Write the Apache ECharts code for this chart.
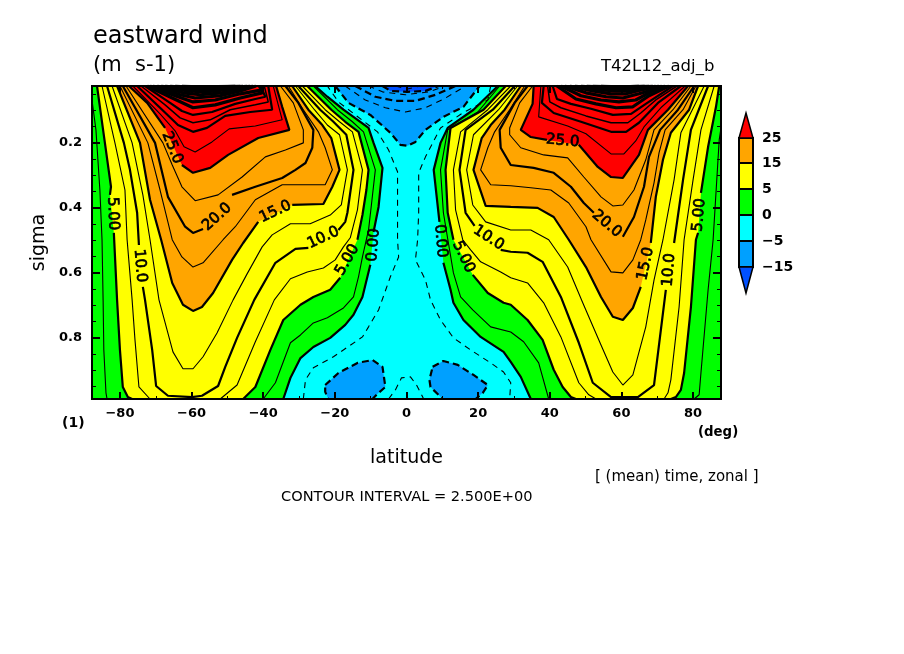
<!DOCTYPE html>
<html>
<head>
<meta charset="utf-8">
<style>html,body{margin:0;padding:0;background:#fff}#main{width:904px;height:654px}</style>
<script src="https://cdn.jsdelivr.net/npm/echarts@6/dist/echarts.min.js"></script>
</head>
<body>
<div id="main"></div>
<script>
// axis ranges and ticks
var latRange = [-87.8, 87.8];
var sigmaRange = [0.025, 0.988];
var latTicks = [-80, -60, -40, -20, 0, 20, 40, 60, 80];
var latMinorTicks = [-70, -50, -30, -10, 10, 30, 50, 70];
var sigmaTicks = [0.2, 0.4, 0.6, 0.8];
var sigmaMinorTicks = [0.05, 0.1, 0.15, 0.25, 0.3, 0.35, 0.45, 0.5, 0.55, 0.65, 0.7, 0.75, 0.85, 0.9, 0.95];

// contours of u, [lat, sigma], null = gap for a label.  S = south, N = north
var u0S = [[-34.4,.988],[-32.4,.923],[-29.6,.862],[-26,.828],[-21.3,.8],[-17.1,.76],[-14.8,.729],[-12.3,.674],[-10.1,.575],null,[-9.2,.474],[-7.8,.397],[-6.7,.277],[-9.2,.2],[-10.6,.154],[-17.6,.098],[-22.1,.058],[-25.5,.025]];
var u0N = [[34.7,.988],[31.9,.92],[29.1,.874],[27.1,.843],[20.7,.797],[15.9,.745],[13.1,.692],[12.3,.652],[10.3,.569],null,[9.2,.443],[7.6,.283],[9.5,.2],[11.5,.154],[18.7,.098],[25.5,.025]];
var u2S = [[-87.8,.068],[-86.7,.16],[-85.6,.345],[-85,.498],[-84.7,.683],[-84.5,.837],[-83.9,.969],[-83.6,.988],null,[-40,.988],[-36.6,.938],[-32.4,.815],[-29.6,.791],[-26,.754],[-22.1,.738],[-17.6,.708],[-14.8,.674],[-13.4,.612],[-12.3,.551],[-10.6,.468],[-9.8,.391],[-8.7,.283],[-12,.166],[-15.1,.135],[-19.3,.098],[-26,.025]];
var u2N = [[39.7,.988],[36.9,.877],[32.7,.812],[29.1,.782],[23.5,.766],[18.5,.714],[15.1,.674],[13.1,.6],[11.7,.508],[10.3,.415],[9.5,.283],[11.5,.16],[19.9,.105],[26,.025],null,[87.8,.154],[87.3,.191],[85.6,.498],[84.2,.652],[82.2,.908],[81.7,.975],[80.3,.988]];
var u5S = [[-86.4,.025],[-84.2,.2],[-82.5,.335],[-82.8,.36],null,[-81.7,.477],[-80.8,.683],[-80,.837],[-79.2,.951],[-77.8,.982],[-76.6,.988],[-45.6,.988],[-42.2,.951],[-38,.837],[-34.4,.745],[-29.6,.698],[-26,.674],[-21.3,.652],[-18.5,.615],null,[-13.7,.498],[-12.3,.422],[-11.2,.345],[-10.6,.283],[-13.4,.166],[-17.1,.135],[-21,.098],[-27.7,.025]];
var u5N = [[27.7,.025],[21.5,.098],[12.3,.154],[10.9,.283],[11.5,.415],[13.1,.498],null,[18.5,.606],[22.7,.662],[27.1,.692],[29.1,.698],[33.8,.745],[38,.806],[41.1,.898],[43.6,.951],[45.9,.982],[47.3,.988],[73.8,.988],[75.2,.982],[76.6,.96],[77.5,.908],[79.4,.705],[80.8,.498],[81.4,.477],null,[82.2,.354],[84.2,.212],[86.4,.089],[87.3,.025]];
var u7S = [[-85,.025],[-81.4,.2],[-78.6,.345],[-78,.498],[-76.6,.683],[-75.8,.806],[-74.7,.951],[-71.6,.988],[-52,.988],[-47.3,.945],[-42.2,.812],[-36.9,.683],[-32.4,.618],[-27.7,.597],[-23.2,.585],[-19.9,.56],[-17.6,.52],[-15.7,.492],[-13.7,.406],[-12.3,.283],[-15.1,.166],[-18.7,.135],[-22.7,.098],[-29.1,.025]];
var u7N = [[29.1,.025],[22.7,.098],[15.1,.166],[13.1,.283],[13.7,.406],[15.7,.498],[17.9,.529],[20.7,.566],[26.3,.597],[29.1,.615],[33.8,.631],[38.3,.692],[43.1,.797],[48.1,.938],[50.9,.975],[52.9,.988],[71.9,.988],[73,.969],[73.8,.929],[76.1,.705],[77.5,.498],[80,.314],[82.2,.16],[85.9,.025]];
var u10S = [[-83.6,.025],[-78.9,.2],[-77.2,.283],[-75.2,.415],[-74.7,.514],null,[-73.6,.643],[-73,.683],[-71,.837],[-69.9,.948],[-66.6,.978],[-59.9,.982],[-57.1,.978],[-52.6,.948],[-50.6,.889],[-47.3,.8],[-42.5,.683],[-36.6,.569],[-31,.526],[-27.4,.523],null,[-19,.468],[-17.1,.443],[-16.5,.415],[-14.8,.283],[-16.8,.175],[-20.4,.135],[-24.1,.098],[-30.2,.025]];
var u10N = [[30.2,.025],[24.1,.098],[16.5,.16],[14.8,.283],[16.5,.415],[19,.455],null,[26.3,.529],[29.1,.535],[33.8,.538],[38,.566],[43.1,.674],[48.1,.815],[52,.938],[57.1,.982],[64.6,.982],[69.1,.945],[72.4,.652],null,[74.7,.508],[77.2,.314],[79.4,.16],[84.2,.025]];
var u12S = [[-82.2,.025],[-76.6,.2],[-73.6,.36],[-71.6,.498],[-69.1,.683],[-65.2,.843],[-62.4,.895],[-59.6,.895],[-56.8,.858],[-52.9,.785],[-48.4,.683],[-44.5,.603],[-40.3,.52],[-37.5,.483],[-32.4,.449],[-26.9,.449],[-21.3,.422],[-18.2,.391],[-16.5,.283],[-18.7,.175],[-22.1,.145],[-25.7,.098],[-31,.025]];
var u12N = [[31,.025],[25.7,.098],[18.7,.175],[16.8,.283],[18.5,.391],[22.1,.443],[29.1,.468],[34.7,.468],[39.7,.498],[45,.582],[49.2,.692],[54.3,.822],[57.6,.905],[60.4,.945],[63.2,.914],[66.8,.766],[69.1,.622],[71.6,.498],[74.7,.314],[76.6,.169],[83.1,.025]];
var u15S = [[-80.8,.025],[-74.4,.2],[-71.6,.375],[-68.5,.498],[-65.4,.631],[-62.4,.698],[-59.6,.717],[-57.1,.705],[-54,.662],[-48.7,.56],[-45.6,.508],[-41.4,.443],null,[-31.9,.391],[-23.2,.388],[-20.7,.335],[-18.7,.283],[-21,.185],[-23.5,.145],[-27.4,.098],[-31.9,.025]];
var u15N = [[31.9,.025],[27.4,.098],[23.5,.145],[21,.185],[18.7,.283],[22.1,.394],[29.1,.397],[36.6,.4],[41.1,.428],[45.3,.498],[50.1,.582],[54.3,.674],[57.6,.735],[60.4,.745],[63.2,.708],[65.4,.643],null,[68.2,.508],[69.6,.366],[71.6,.252],[73.8,.169],[78.9,.098],[81.4,.025]];
var u17S = [[-80,.025],[-72.2,.2],[-68.8,.345],[-65.4,.498],[-62.7,.551],[-59.6,.582],[-56.8,.569],[-51.2,.498],[-47.8,.458],[-42.2,.375],[-34.7,.329],[-28.2,.329],[-22.7,.329],[-20.7,.283],[-22.7,.215],[-24.6,.166],[-28.8,.098],[-33,.025]];
var u17N = [[33,.025],[28.8,.098],[24.6,.166],[22.7,.215],[20.7,.283],[23.5,.329],[29.1,.332],[34.7,.338],[40.3,.345],[45.3,.385],[50.1,.458],[51.5,.498],[57.1,.597],[60.4,.6],[63.2,.56],[65.4,.498],[66.8,.437],[69.1,.323],[70.5,.231],[72.2,.16],[77.2,.098],[80.8,.025]];
var u20S = [[-79.2,.025],[-70.2,.2],[-66.6,.366],[-61.8,.458],[-59.6,.477],[-56.8,.465],null,[-48.7,.36],[-42.2,.335],[-34.7,.308],[-31,.283],[-28.2,.262],[-26.3,.215],[-26,.16],[-30.2,.077],[-33.8,.025]];
var u20N = [[33.8,.025],[30.2,.077],[26,.16],[26.3,.215],[29.1,.268],[35.5,.277],[41.1,.292],[45.9,.335],[49.5,.385],[52.3,.415],null,[60.4,.489],[63.5,.428],[66.3,.335],[67.7,.243],[70.8,.16],[75.8,.098],[80.3,.025]];
var u22S = [[-78.3,.025],[-68,.2],[-65.4,.268],[-62.7,.335],[-59,.378],[-52.6,.36],[-45.9,.305],[-39.4,.243],[-33.8,.222],[-28.8,.2],[-28.8,.16],[-31.6,.077],[-35.2,.025]];
var u22N = [[35.2,.025],[31.6,.077],[28.8,.154],[28.8,.175],[31.9,.215],[38.3,.237],[45,.246],[49.5,.305],[54.3,.366],[57.6,.394],[60.4,.391],[63.5,.345],[66.8,.252],[69.1,.16],[74.4,.098],[79.4,.025]];
var u25S = [[-77.5,.025],[-72.4,.077],[-67.4,.154],null,[-62.7,.268],[-59.6,.292],[-54.8,.277],[-49.8,.237],[-41.4,.185],[-32.7,.16],[-34.7,.089],[-36.4,.025]];
var u25N = [[35.5,.025],[35.2,.08],[31.9,.16],[34.7,.182],[39.2,.191],null,[48.1,.206],[53.4,.274],[57.1,.305],[60.4,.308],[64.9,.237],[67.4,.16],[73,.098],[78.6,.025]];

// jet core, 27.5 upwards in steps of 2.5
var jetS = [
  [[-76.4,.025],[-68.8,.111],[-64.6,.163],[-62.1,.212],[-59,.228],[-54.3,.197],[-49.5,.157],[-42.2,.148],[-34.7,.129],[-37.2,.025]],
  [[-75.2,.025],[-68.8,.092],[-63.8,.145],[-59.6,.166],[-55.7,.154],[-50.6,.117],[-43.6,.105],[-37.5,.098],[-38.6,.025]],
  [[-74.1,.025],[-67.4,.083],[-63.2,.123],[-59.6,.138],[-54.8,.129],[-49.2,.098],[-42.2,.083],[-38.6,.074],[-39.7,.025]],
  [[-73,.025],[-66,.077],[-62.7,.102],[-59.6,.114],[-54.3,.105],[-47.8,.08],[-42.2,.065],[-39.4,.058],[-40.8,.025]],
  [[-72.4,.025],[-65.4,.062],[-59.6,.092],[-53.4,.083],[-46.4,.062],[-40.3,.046],[-40.3,.025]],
  [[-71.6,.025],[-64.6,.055],[-59.6,.074],[-53.4,.068],[-46.4,.049],[-40.3,.037],[-41.1,.025]],
  [[-70.8,.025],[-63.2,.052],[-59,.062],[-52,.055],[-46.4,.04],[-42,.025]],
  [[-69.6,.025],[-62.4,.046],[-57.6,.052],[-51.5,.046],[-46.4,.034],[-42.8,.025]],
  [[-68.5,.025],[-61.3,.04],[-56.2,.043],[-50.6,.037],[-43.6,.025]],
  [[-67.4,.025],[-60.4,.037],[-54.8,.037],[-49.8,.034],[-44.5,.025]],
  [[-66,.025],[-59.9,.034],[-54.3,.031],[-49.2,.031],[-45.6,.025]],
  [[-64.6,.025],[-59,.031],[-53.4,.028],[-46.4,.025]],
  [[-62.7,.025],[-57.6,.028],[-47.8,.025]]
];
var jetN = [
  [[37.5,.025],[36.9,.12],[45,.148],[50.1,.172],[57.1,.234],[60.7,.234],[64,.194],[66.3,.151],[71,.092],[77.8,.025]],
  [[38.3,.025],[37.8,.077],[41.1,.108],[48.7,.135],[57.1,.166],[61.3,.166],[64.9,.138],[70.2,.077],[76.6,.025]],
  [[39.4,.025],[40,.074],[43.1,.092],[50.1,.117],[57.1,.138],[61.8,.138],[65.4,.108],[69.6,.068],[75.5,.025]],
  [[40.8,.025],[42,.065],[45.9,.08],[51.5,.095],[57.6,.114],[62.7,.111],[66.8,.08],[74.4,.025]],
  [[42,.025],[47.3,.065],[52.9,.08],[58.5,.092],[63.2,.089],[67.7,.055],[73.3,.025]],
  [[43.1,.025],[48.7,.055],[54.3,.068],[59.3,.074],[64,.068],[68.2,.043],[72.2,.025]],
  [[44.2,.025],[50.1,.046],[55.7,.058],[60.4,.062],[64.9,.049],[69.6,.034],[71.3,.025]],
  [[45.6,.025],[52,.04],[57.1,.049],[61.3,.049],[65.4,.037],[70.5,.025]],
  [[47,.025],[54.3,.037],[58.5,.04],[62.7,.04],[66.8,.034],[69.6,.025]],
  [[48.7,.025],[55.7,.034],[59.9,.034],[64,.031],[68.8,.025]],
  [[50.3,.025],[57.1,.031],[62.7,.028],[67.7,.025]],
  [[52,.025],[58.5,.028],[66.5,.025]],
  [[54.3,.025],[59.9,.028],[64.9,.025]]
];

// easterlies
var um2 = [[-28.8,.988],[-28.2,.929],[-26,.892],[-20.4,.858],[-12.3,.797],[-10.6,.766],[-7.8,.714],[-4.5,.612],[-2.2,.551],[-2.5,.498],[-2.5,.375],[-2.5,.289],[-5,.222],[-8.1,.166],[-19,.074],[-22.1,.025],null,[23.5,.025],[22.7,.068],[15.7,.108],[9.5,.154],[5.3,.243],[3.4,.292],[3.4,.415],[3.1,.498],[2.5,.56],[5.3,.622],[6.7,.683],[9.5,.745],[13.1,.8],[17.9,.837],[23.5,.877],[27.1,.905],[29.1,.938],[28.8,.988]];
var um2Arc = [[-5,.988],[-3.1,.96],[-1.4,.923],[1.1,.92],[2.8,.945],[4.8,.988]];
var um5 = [[-19.9,.025],[-16.2,.077],[-10.1,.114],[-4.5,.169],[-1.7,.206],[.3,.209],[2.5,.197],[5.3,.16],[10.3,.12],[15.9,.089],[20.4,.025]];
var um5BlobS = [[-22.7,.945],[-19,.908],[-13.7,.877],[-9.5,.868],[-6.7,.889],[-5.9,.951],[-7.8,.969],[-9.5,.988],[-21.8,.988],[-22.7,.966],[-22.7,.945]];
var um5BlobN = [[7.3,.889],[10.3,.871],[14.3,.883],[18.7,.914],[22.7,.945],[21.3,.969],[19.3,.988],[10.1,.988],[6.7,.951],[6.4,.929],[7.3,.889]];
var um7 = [[-17.1,.025],[-11.5,.068],[-5.9,.092],[-.3,.105],[5.3,.092],[10.9,.062],[16.5,.025]];
var um10 = [[-14.3,.025],[-8.7,.058],[-3.1,.071],[2.5,.071],[8.1,.052],[13.7,.025]];
var um12 = [[-10.6,.025],[-6.7,.043],[-.3,.052],[6.2,.043],[10.9,.025]];
var um15 = [[-6.7,.025],[-4.5,.04],[.3,.043],[5.3,.04],[9,.025]];
var um17 = [[-3.1,.025],[.3,.034],[3.9,.025]];

// contour labels
var labelText = ['25.0','20.0','15.0','10.0','5.00','0.00','5.00','10.0','0.00','5.00','10.0','25.0','20.0','15.0','10.0','5.00'];
var labelLat = [-65.4,-52.9,-36.6,-23.2,-16.5,-9.2,-82,-74.4,9.5,15.9,22.9,43.6,55.9,66.8,73.3,81.7];
var labelSigma = [.215,.428,.412,.492,.56,.514,.418,.578,.502,.551,.492,.194,.449,.572,.591,.422];
var labelAngle = [-68,42,25,25,60,85,-88,-85,-85,-65,-33,-5,-40,78,85,85];

// colour bar
var barColors = ['#ff0000','#ffa500','#ffff00','#00ff00','#00ffff','#00a0ff','#0050ff'];
var barLabels = ['25','15','5','0','\u22125','\u221215'];

var RED = barColors[0], ORANGE = barColors[1], YELLOW = barColors[2], GREEN = barColors[3], CYAN = barColors[4], BLUE = barColors[5], DEEP = barColors[6];

// painter's order
var fills = [
  {color: CYAN, pts: [[latRange[0],sigmaRange[0]],[latRange[1],sigmaRange[0]],[latRange[1],sigmaRange[1]],[latRange[0],sigmaRange[1]]]},
  {color: GREEN, pts: u0S.concat([[latRange[0],sigmaRange[0]],[latRange[0],sigmaRange[1]]])},
  {color: GREEN, pts: u0N.concat([[latRange[1],sigmaRange[0]],[latRange[1],sigmaRange[1]]])},
  {color: YELLOW, pts: u5S},
  {color: YELLOW, pts: u5N},
  {color: ORANGE, pts: u15S},
  {color: ORANGE, pts: u15N},
  {color: RED, pts: u25S},
  {color: RED, pts: u25N},
  {color: BLUE, pts: um5},
  {color: BLUE, pts: um5BlobS},
  {color: BLUE, pts: um5BlobN},
  {color: DEEP, pts: um15}
];

var contours = [
  [0,u0S],[0,u0N],[2.5,u2S],[2.5,u2N],[5,u5S],[5,u5N],[7.5,u7S],[7.5,u7N],[10,u10S],[10,u10N],
  [12.5,u12S],[12.5,u12N],[15,u15S],[15,u15N],[17.5,u17S],[17.5,u17N],[20,u20S],[20,u20N],
  [22.5,u22S],[22.5,u22N],[25,u25S],[25,u25N],
  [-2.5,um2],[-2.5,um2Arc],[-5,um5],[-5,um5BlobS],[-5,um5BlobN],[-7.5,um7],[-10,um10],[-12.5,um12],[-15,um15],[-17.5,um17]
];
jetS.forEach(function (pts, i) { contours.push([27.5 + i * 2.5, pts]); });
jetN.forEach(function (pts, i) { contours.push([27.5 + i * 2.5, pts]); });

var series = [{
  type: 'custom',
  silent: true,
  z: 1,
  data: fills.map(function (f, i) { return [i]; }),
  renderItem: function (params, api) {
    var f = fills[params.dataIndex];
    var pts = f.pts.filter(function (p) { return p; }).map(function (p) { return api.coord(p); });
    return {type: 'polygon', shape: {points: pts}, style: {fill: f.color}};
  }
}];

// the strongest levels are so tight in the original that they merge to black
function lineWidth(level) {
  if (level >= 37.5) return 3.2;
  if (level % 5 === 0) return 2.2;
  return level > 30 ? 1.5 : 1.1;
}

contours.forEach(function (c) {
  var thick = c[0] % 5 === 0;
  series.push({
    type: 'line',
    silent: true,
    z: 2,
    symbol: 'none',
    connectNulls: false,
    data: c[1].map(function (p) { return p || [NaN, NaN]; }),
    lineStyle: {
      color: '#000',
      width: lineWidth(c[0]),
      type: c[0] < 0 ? (thick ? [7, 4] : [6, 5]) : 'solid'
    }
  });
});

series.push({
  type: 'custom',
  silent: true,
  z: 3,
  data: labelText.map(function (t, i) { return [labelLat[i], labelSigma[i]]; }),
  renderItem: function (params, api) {
    var i = params.dataIndex;
    var pos = api.coord([labelLat[i], labelSigma[i]]);
    return {
      type: 'text',
      x: pos[0], y: pos[1],
      rotation: labelAngle[i] * Math.PI / 180,
      style: {text: labelText[i], align: 'center', verticalAlign: 'middle', fill: '#000',
        font: '15px "DejaVu Sans"', stroke: '#000', lineWidth: 0.7}
    };
  }
});

function xAxis(pos, ticks, len, labels) {
  return {
    type: 'value', position: pos, min: latRange[0], max: latRange[1], z: 5, silent: true,
    splitLine: {show: false},
    axisLine: {show: true, onZero: false, lineStyle: {color: '#000', width: 2}},
    axisTick: {show: true, inside: true, length: len, customValues: ticks, lineStyle: {color: '#000', width: len > 4 ? 2 : 1}},
    axisLabel: labels ? {
      show: true, customValues: ticks, margin: 8, color: '#000',
      fontFamily: 'DejaVu Sans', fontWeight: 'bold', fontSize: 13,
      formatter: function (v) { return v < 0 ? '\u2212' + (-v) : '' + v; }
    } : {show: false},
    name: labels ? 'latitude' : '', nameLocation: 'center', nameGap: 50,
    nameTextStyle: {color: '#000', fontFamily: 'DejaVu Sans', fontSize: 19}
  };
}

function yAxis(pos, ticks, len, labels) {
  return {
    type: 'value', position: pos, inverse: true, min: sigmaRange[0], max: sigmaRange[1], z: 5, silent: true,
    splitLine: {show: false},
    axisLine: {show: true, onZero: false, lineStyle: {color: '#000', width: 2}},
    axisTick: {show: true, inside: true, length: len, customValues: ticks, lineStyle: {color: '#000', width: len > 4 ? 2 : 1}},
    axisLabel: labels ? {
      show: true, customValues: ticks, margin: 10, color: '#000',
      fontFamily: 'DejaVu Sans', fontWeight: 'bold', fontSize: 13,
      formatter: function (v) { return v.toFixed(1); }
    } : {show: false},
    name: labels ? 'sigma' : '', nameLocation: 'center', nameGap: 34, nameRotate: 90,
    nameTextStyle: {color: '#000', fontFamily: 'DejaVu Sans', fontSize: 19}
  };
}

function txt(str, x, y, size, weight, align) {
  return {type: 'text', x: x, y: y, z: 10, style: {text: str, fill: '#000', align: align || 'left', verticalAlign: 'middle',
    font: (weight || 'normal') + ' ' + size + 'px "DejaVu Sans"'}};
}

var barX = 739, barW = 14;
var barY = [138, 163, 189, 215, 241, 267];
var gfx = [
  txt('eastward wind', 93, 37, 24),
  txt('(m  s-1)', 93, 66, 21),
  txt('T42L12_adj_b', 601, 67, 16.5),
  txt('(1)', 62, 423, 14, 'bold'),
  txt('(deg)', 698, 433, 13.3, 'bold'),
  txt('[ (mean) time, zonal ]', 595, 477, 15),
  txt('CONTOUR INTERVAL = 2.500E+00', 281, 497, 14.6)
];
for (var i = 0; i < barY.length - 1; i++) {
  gfx.push({type: 'rect', z: 9, shape: {x: barX, y: barY[i], width: barW, height: barY[i + 1] - barY[i]},
    style: {fill: barColors[i + 1], stroke: '#000', lineWidth: 2}});
}
gfx.push({type: 'polygon', z: 9, shape: {points: [[barX, barY[0]], [barX + barW, barY[0]], [barX + barW / 2, 113]]},
  style: {fill: barColors[0], stroke: '#000', lineWidth: 1.5}});
gfx.push({type: 'polygon', z: 9, shape: {points: [[barX, barY[5]], [barX + barW, barY[5]], [barX + barW / 2, 293]]},
  style: {fill: barColors[6], stroke: '#000', lineWidth: 1.5}});
barLabels.forEach(function (t, i) {
  gfx.push(txt(t, 762, barY[i], 14, 'bold'));
});

var myChart = echarts.init(document.getElementById('main'));
var option = {
  animation: false,
  backgroundColor: '#fff',
  grid: {left: 92, right: 183, top: 86, bottom: 255, containLabel: false},
  xAxis: [xAxis('bottom', latTicks, 7, true), xAxis('bottom', latMinorTicks, 3), xAxis('top', latTicks, 7), xAxis('top', latMinorTicks, 3)],
  yAxis: [yAxis('left', sigmaTicks, 8, true), yAxis('left', sigmaMinorTicks, 4), yAxis('right', sigmaTicks, 8), yAxis('right', sigmaMinorTicks, 4)],
  graphic: gfx,
  series: series
};
myChart.setOption(option);
</script>
</body>
</html>
